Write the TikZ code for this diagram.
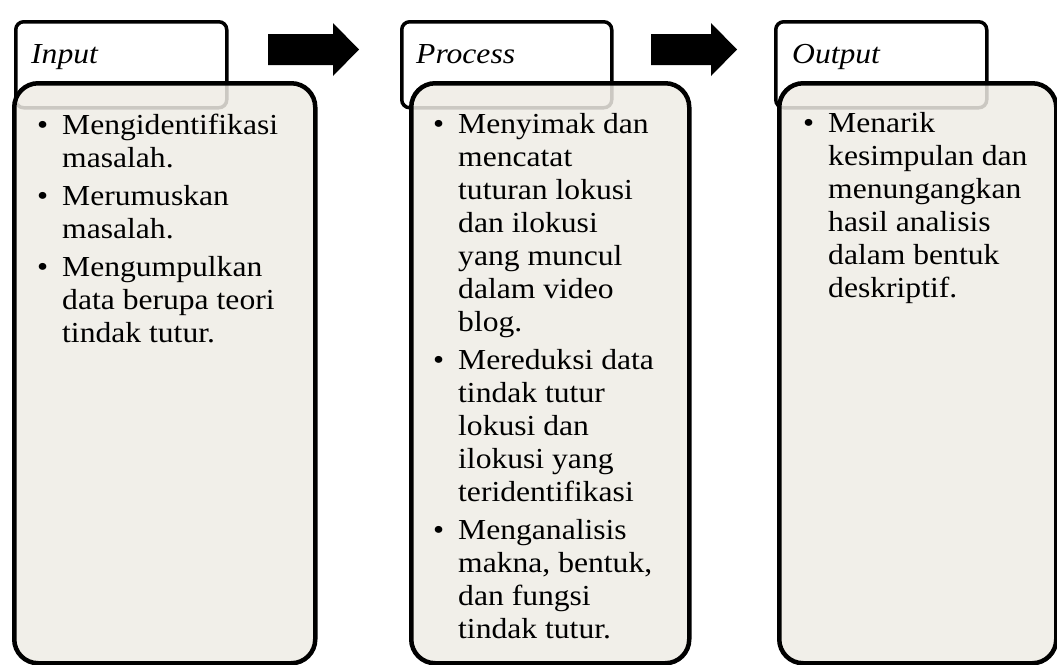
\documentclass[tikz,border=0pt]{standalone}
\usepackage{fontspec}
\setmainfont{Liberation Serif}[FakeStretch=1.09]
\definecolor{boxfill}{RGB}{239,236,229}
\tikzset{
  hdr/.style={draw=black, line width=3.5pt, fill=white, rounded corners=8pt,
    anchor=north west, inner sep=0pt},
  mbox/.style={draw=black, line width=4.5pt, fill=boxfill, fill opacity=0.85,
    draw opacity=1, rounded corners=24pt, anchor=north west, inner sep=0pt},
  blk/.style={fill=black},
  body/.style={anchor=base west, inner sep=0pt, font=\fontsize{29}{33}\selectfont},
  ttl/.style={anchor=base west, inner sep=0pt, font=\fontsize{29}{33}\selectfont\itshape}
}
\begin{document}
\begin{tikzpicture}[x=1pt,y=-1pt]
\useasboundingbox (0,0) rectangle (1057,664);
% headers
\node[hdr, minimum width=211pt, minimum height=86pt] (h1) at (14,20) {};
\node[hdr, minimum width=210pt, minimum height=86pt] (h2) at (400,20) {};
\node[hdr, minimum width=211pt, minimum height=86pt] (h3) at (774,20) {};
\node[ttl] (l1) at (31,63) {Input};
\node[ttl] (l2) at (416,63) {Process};
\node[ttl] (l3) at (792,63) {Output};
% main boxes
\node[mbox, minimum width=301pt, minimum height=580pt] (m1) at (12,81) {};
\node[mbox, minimum width=278pt, minimum height=580pt] (m2) at (409,81) {};
\node[mbox, minimum width=277pt, minimum height=580pt] (m3) at (777,81) {};
% arrows
\fill[blk] (268,34) -- (333,34) -- (333,23) -- (359,49.5) -- (333,76) -- (333,65) -- (268,65) -- cycle;
\fill[blk] (651,34) -- (711,34) -- (711,23) -- (737,49.5) -- (711,76) -- (711,65) -- (651,65) -- cycle;
% texts
\node[body] (t1) at (37,134) {\begin{tabular}[t]{@{}p{25pt}@{}l@{}}
\textbullet & Mengidentifikasi\\ & masalah.\\[5pt]
\textbullet & Merumuskan\\ & masalah.\\[5pt]
\textbullet & Mengumpulkan\\ & data berupa teori\\ & tindak tutur.
\end{tabular}};
\node[body] (t2) at (433,133) {\begin{tabular}[t]{@{}p{25pt}@{}l@{}}
\textbullet & Menyimak dan\\ & mencatat\\ & tuturan lokusi\\ & dan ilokusi\\ & yang muncul\\ & dalam video\\ & blog.\\[5pt]
\textbullet & Mereduksi data\\ & tindak tutur\\ & lokusi dan\\ & ilokusi yang\\ & teridentifikasi\\[5pt]
\textbullet & Menganalisis\\ & makna, bentuk,\\ & dan fungsi\\ & tindak tutur.
\end{tabular}};
\node[body] (t3) at (803,132) {\begin{tabular}[t]{@{}p{25pt}@{}l@{}}
\textbullet & Menarik\\ & kesimpulan dan\\ & menungangkan\\ & hasil analisis\\ & dalam bentuk\\ & deskriptif.
\end{tabular}};
\end{tikzpicture}
\end{document}
